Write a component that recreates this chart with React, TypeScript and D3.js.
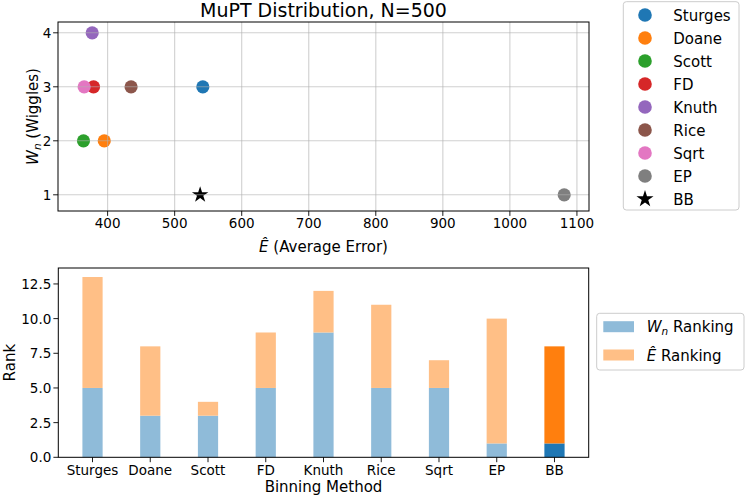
import React from "react";
import * as d3 from "d3";

const methods = ["Sturges", "Doane", "Scott", "FD", "Knuth", "Rice", "Sqrt", "EP", "BB"];
const avgError = [542, 395, 364, 379, 377, 435, 365, 1081, 538];
const wiggles = [3, 2, 2, 3, 4, 3, 3, 1, 1];
const colors = ["#1f77b4", "#ff7f0e", "#2ca02c", "#d62728", "#9467bd", "#8c564b", "#e377c2", "#7f7f7f", "#000000"];
const wnRank = [5, 3, 3, 5, 9, 5, 5, 1, 1];
const errRank = [8, 5, 1, 4, 3, 6, 2, 9, 7];
const xTicksTop = [400, 500, 600, 700, 800, 900, 1000, 1100];
const yTicksTop = [1, 2, 3, 4];
const yTicksBottom = [0, 2.5, 5, 7.5, 10, 12.5];

const FONT = "DejaVu Sans";

const W = 747;
const H = 498;

// top axes box
const T = { l: 58, r: 589, t: 22, b: 211 };
// bottom axes box
const B = { l: 58.3, r: 588.7, t: 268, b: 457.3 };

export default function App() {
  const xTop = d3.scaleLinear().domain([326, 1118]).range([T.l, T.r]);
  const yTop = d3.scaleLinear().domain([0.7, 4.2]).range([T.b, T.t]);
  const xBot = d3.scaleLinear().domain([-0.5925, 8.5925]).range([B.l, B.r]);
  const yBot = d3.scaleLinear().domain([0, 13.65]).range([B.b, B.t]);
  const barW = xBot(0.35) - xBot(0);

  const starPath = d3.symbol().type(d3.symbolStar).size(84)() as string;
  const starLegend = d3.symbol().type(d3.symbolStar).size(90)() as string;
  const gridColor = "#b0b0b0";

  return (
    <svg
      width={W}
      height={H}
      viewBox={`0 0 ${W} ${H}`}
      style={{ position: "absolute", left: 0, top: 0, background: "#fff" }}
      fontFamily={FONT}
    >
      <rect x={0} y={0} width={W} height={H} fill="#fff" />

      {/* ===== TOP SCATTER ===== */}
      <text x={(T.l + T.r) / 2} y={16.8} fontSize={19} textAnchor="middle" fill="#000">
        MuPT Distribution, N=500
      </text>

      {/* points */}
      {methods.map((m, i) =>
        m === "BB" ? (
          <path
            key={m}
            d={starPath}
            transform={`translate(${xTop(avgError[i])},${yTop(wiggles[i])})`}
            fill={colors[i]}
          />
        ) : (
          <circle key={m} cx={xTop(avgError[i])} cy={yTop(wiggles[i])} r={6.6} fill={colors[i]} />
        )
      )}

      {/* grid (drawn above points, as in reference) */}
      {xTicksTop.map((v) => (
        <line
          key={"gx" + v}
          x1={xTop(v)}
          x2={xTop(v)}
          y1={T.t}
          y2={T.b}
          stroke={gridColor}
          strokeOpacity={0.6}
          strokeWidth={1.1}
        />
      ))}
      {yTicksTop.map((v) => (
        <line
          key={"gy" + v}
          x1={T.l}
          x2={T.r}
          y1={yTop(v)}
          y2={yTop(v)}
          stroke={gridColor}
          strokeOpacity={0.6}
          strokeWidth={1.1}
        />
      ))}

      {/* spines */}
      <rect x={T.l} y={T.t} width={T.r - T.l} height={T.b - T.t} fill="none" stroke="#000" strokeWidth={1} />

      {/* ticks */}
      {xTicksTop.map((v) => (
        <g key={"xt" + v}>
          <line x1={xTop(v)} x2={xTop(v)} y1={T.b} y2={T.b + 4.9} stroke="#000" strokeWidth={0.9} />
          <text x={xTop(v)} y={228.3} fontSize={13.5} textAnchor="middle" fill="#000">
            {v}
          </text>
        </g>
      ))}
      {yTicksTop.map((v) => (
        <g key={"yt" + v}>
          <line x1={T.l - 4.9} x2={T.l} y1={yTop(v)} y2={yTop(v)} stroke="#000" strokeWidth={0.9} />
          <text x={51.3} y={yTop(v) + 4.9} fontSize={13.5} textAnchor="end" fill="#000">
            {v}
          </text>
        </g>
      ))}

      {/* axis labels */}
      <text x={(T.l + T.r) / 2} y={251.5} fontSize={15} textAnchor="middle" fill="#000">
        <tspan fontStyle="italic">Ê</tspan>
        <tspan> (Average Error)</tspan>
      </text>
      <text
        transform={`translate(37.7,${(T.t + T.b) / 2}) rotate(-90)`}
        fontSize={15}
        textAnchor="middle"
        fill="#000"
      >
        <tspan fontStyle="italic">W</tspan>
        <tspan fontStyle="italic" fontSize={10.5} dy={3}>
          n
        </tspan>
        <tspan dy={-3}> (Wiggles)</tspan>
      </text>

      {/* top legend */}
      <rect x={623.3} y={1.7} width={115.7} height={208.3} rx={3} fill="#fff" stroke="#cccccc" strokeWidth={1} />
      {methods.map((m, i) => {
        const cy = 15 + 23 * i;
        return (
          <g key={"lg" + m}>
            {m === "BB" ? (
              <path d={starLegend} transform={`translate(645,${cy})`} fill={colors[i]} />
            ) : (
              <circle cx={645} cy={cy} r={6.8} fill={colors[i]} />
            )}
            <text x={673.3} y={cy + 5.5} fontSize={15} fill="#000">
              {m}
            </text>
          </g>
        );
      })}

      {/* ===== BOTTOM BARS ===== */}
      {methods.map((m, i) => {
        const isBB = m === "BB";
        const x0 = xBot(i) - barW / 2;
        const total = wnRank[i] + errRank[i];
        return (
          <g key={"bar" + m}>
            <rect
              x={x0}
              y={yBot(wnRank[i])}
              width={barW}
              height={yBot(0) - yBot(wnRank[i])}
              fill={isBB ? "#1f77b4" : "#8fbbd9"}
            />
            <rect
              x={x0}
              y={yBot(total)}
              width={barW}
              height={yBot(wnRank[i]) - yBot(total)}
              fill={isBB ? "#ff7f0e" : "#ffbf86"}
            />
          </g>
        );
      })}

      <rect x={B.l} y={B.t} width={B.r - B.l} height={B.b - B.t} fill="none" stroke="#000" strokeWidth={1} />

      {methods.map((m, i) => (
        <g key={"bxt" + m}>
          <line x1={xBot(i)} x2={xBot(i)} y1={B.b} y2={B.b + 4.9} stroke="#000" strokeWidth={0.9} />
          <text x={xBot(i)} y={474.5} fontSize={13.5} textAnchor="middle" fill="#000">
            {m}
          </text>
        </g>
      ))}
      {yTicksBottom.map((v) => (
        <g key={"byt" + v}>
          <line x1={B.l - 4.9} x2={B.l} y1={yBot(v)} y2={yBot(v)} stroke="#000" strokeWidth={0.9} />
          <text x={51.3} y={yBot(v) + 4.9} fontSize={13.5} textAnchor="end" fill="#000">
            {v.toFixed(1)}
          </text>
        </g>
      ))}

      <text x={(B.l + B.r) / 2} y={491.5} fontSize={15} textAnchor="middle" fill="#000">
        Binning Method
      </text>
      <text
        transform={`translate(15.3,${(B.t + B.b) / 2}) rotate(-90)`}
        fontSize={15}
        textAnchor="middle"
        fill="#000"
      >
        Rank
      </text>

      {/* bottom legend */}
      <rect x={596.7} y={313.3} width={147.3} height={56.7} rx={3} fill="#fff" stroke="#cccccc" strokeWidth={1} />
      <rect x={603.3} y={321.2} width={30.7} height={11} fill="#8fbbd9" />
      <rect x={603.3} y={349.5} width={30.7} height={11} fill="#ffbf86" />
      <text x={646.7} y={332.2} fontSize={15} fill="#000">
        <tspan fontStyle="italic">W</tspan>
        <tspan fontStyle="italic" fontSize={10.5} dy={3}>
          n
        </tspan>
        <tspan dy={-3}> Ranking</tspan>
      </text>
      <text x={646.7} y={360.5} fontSize={15} fill="#000">
        <tspan fontStyle="italic">Ê</tspan>
        <tspan> Ranking</tspan>
      </text>
    </svg>
  );
}
